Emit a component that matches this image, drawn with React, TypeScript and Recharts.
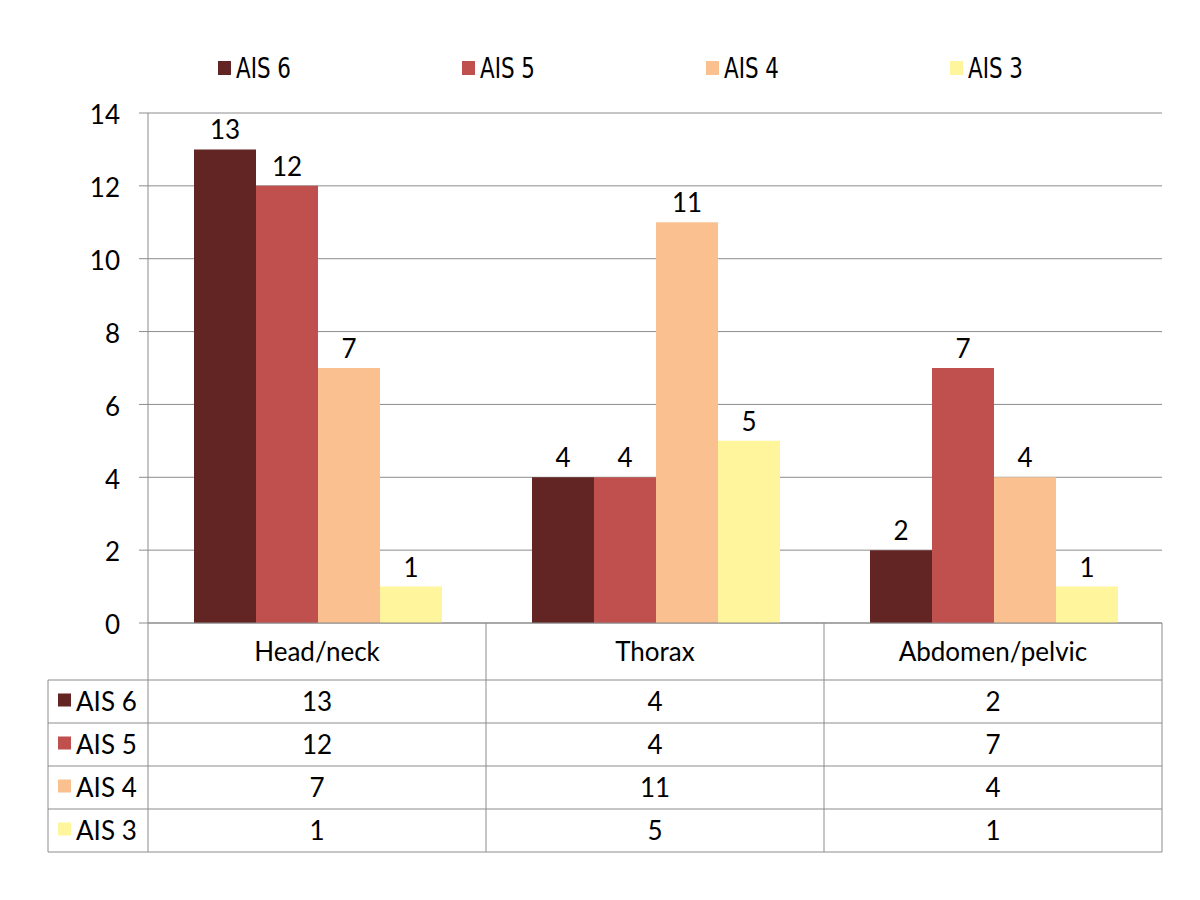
import { BarChart, Bar, XAxis, YAxis, CartesianGrid, LabelList } from "recharts"

const categories = ["Head/neck", "Thorax", "Abdomen/pelvic"]
const seriesNames = ["AIS 6", "AIS 5", "AIS 4", "AIS 3"]
const ais6 = [13, 4, 2]
const ais5 = [12, 4, 7]
const ais4 = [7, 11, 4]
const ais3 = [1, 5, 1]
const yTicks = [0, 2, 4, 6, 8, 10, 12, 14]

const seriesValues = [ais6, ais5, ais4, ais3]
const colors = ["#632523", "#c0504d", "#fac090", "#fff59d"]

const data = categories.map((category, i) => {
    const row: Record<string, string | number> = { category }
    seriesNames.forEach((name, s) => {
        row[name] = seriesValues[s][i]
    })
    return row
})

const W = 1200
const H = 900
const PLOT_LEFT = 148
const PLOT_RIGHT = 1162
const PLOT_TOP = 113
const PLOT_BOTTOM = 623
const HEADER_BOTTOM = 680
const TABLE_BOTTOM = 852
const TABLE_LEFT = 48
const ROW_H = (TABLE_BOTTOM - HEADER_BOTTOM) / seriesNames.length
const BAND = (PLOT_RIGHT - PLOT_LEFT) / categories.length
const LINE = "#8c8c8c"
const FONT = "Lato, 'Open Sans', sans-serif"
const NARROW = "'Liberation Sans Narrow', 'DejaVu Sans Condensed', sans-serif"
const FS = 26

function TableColumn(props: any) {
    const { x, payload } = props
    const idx = payload.index
    const half = BAND / 2
    const left = x - half
    const right = x + half

    return (
        <g>
            {idx === 0 && (
                <g>
                    <line x1={left} y1={PLOT_BOTTOM} x2={left} y2={TABLE_BOTTOM} stroke={LINE} />
                    <line x1={TABLE_LEFT} y1={HEADER_BOTTOM} x2={left} y2={HEADER_BOTTOM} stroke={LINE} />
                    <line x1={TABLE_LEFT} y1={HEADER_BOTTOM} x2={TABLE_LEFT} y2={TABLE_BOTTOM} stroke={LINE} />
                    {seriesNames.map((name, s) => {
                        const top = HEADER_BOTTOM + s * ROW_H
                        return (
                            <g key={name}>
                                <line x1={TABLE_LEFT} y1={top + ROW_H} x2={left} y2={top + ROW_H} stroke={LINE} />
                                <rect x={58} y={top + ROW_H / 2 - 8} width={13} height={13} fill={colors[s]} />
                                <text
                                    x={76}
                                    y={top + ROW_H / 2}
                                    dy="0.36em"
                                    fontSize={FS}
                                    fontFamily={FONT}
                                    fill="#000"
                                >
                                    {name}
                                </text>
                            </g>
                        )
                    })}
                </g>
            )}
            <line x1={right} y1={PLOT_BOTTOM} x2={right} y2={TABLE_BOTTOM} stroke={LINE} />
            <line x1={left} y1={HEADER_BOTTOM} x2={right} y2={HEADER_BOTTOM} stroke={LINE} />
            <text
                x={x}
                y={(PLOT_BOTTOM + HEADER_BOTTOM) / 2}
                dy="0.36em"
                textAnchor="middle"
                fontSize={FS}
                fontFamily={FONT}
                fill="#000"
            >
                {payload.value}
            </text>
            {seriesNames.map((name, s) => {
                const top = HEADER_BOTTOM + s * ROW_H
                return (
                    <g key={name}>
                        <line x1={left} y1={top + ROW_H} x2={right} y2={top + ROW_H} stroke={LINE} />
                        <text
                            x={x}
                            y={top + ROW_H / 2}
                            dy="0.36em"
                            textAnchor="middle"
                            fontSize={FS}
                            fontFamily={FONT}
                            fill="#000"
                        >
                            {seriesValues[s][idx]}
                        </text>
                    </g>
                )
            })}
        </g>
    )
}

export default function App() {
    return (
        <div style={{ position: "absolute", left: 0, top: 0, width: W, height: H, background: "#fff" }}>
            <div style={{ position: "absolute", left: 0, top: 46, width: W, height: 44 }}>
                {seriesNames.map((name, s) => (
                    <div
                        key={name}
                        style={{
                            position: "absolute",
                            left: 218 + s * 244,
                            top: 0,
                            display: "flex",
                            alignItems: "center",
                            height: 44,
                        }}
                    >
                        <div style={{ width: 13, height: 14, background: colors[s], marginRight: 5 }} />
                        <span
                            style={{
                                fontFamily: NARROW,
                                fontSize: 28,
                                color: "#000",
                                display: "inline-block",
                                transform: "scaleX(0.85)",
                                transformOrigin: "left center",
                            }}
                        >
                            {name}
                        </span>
                    </div>
                ))}
            </div>
            <BarChart
                width={W}
                height={H}
                data={data}
                margin={{ top: PLOT_TOP, right: W - PLOT_RIGHT, bottom: H - TABLE_BOTTOM, left: TABLE_LEFT }}
                barCategoryGap={46}
                barGap={0}
            >
                <CartesianGrid vertical={false} stroke={LINE} />
                <XAxis
                    dataKey="category"
                    height={TABLE_BOTTOM - PLOT_BOTTOM}
                    stroke={LINE}
                    tickLine={false}
                    tickSize={0}
                    interval={0}
                    tick={<TableColumn />}
                />
                <YAxis
                    width={PLOT_LEFT - TABLE_LEFT}
                    domain={[0, 14]}
                    ticks={yTicks}
                    stroke={LINE}
                    tickSize={9}
                    tickMargin={19}
                    tick={{ fontSize: FS, fontFamily: FONT, fill: "#000", dy: 2 }}
                />
                {seriesNames.map((name, s) => (
                    <Bar key={name} dataKey={name} fill={colors[s]} isAnimationActive={false}>
                        <LabelList
                            dataKey={name}
                            position="top"
                            offset={10}
                            fontSize={FS}
                            fontFamily={FONT}
                            fill="#000"
                        />
                    </Bar>
                ))}
            </BarChart>
        </div>
    )
}
